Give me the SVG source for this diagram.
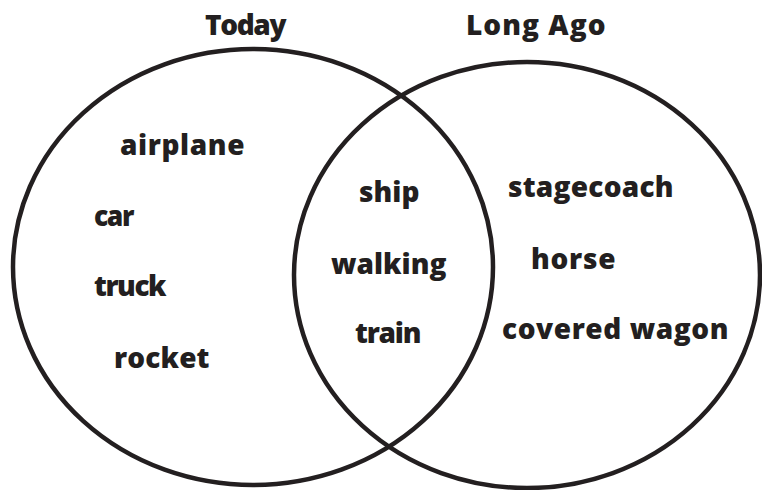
<svg xmlns="http://www.w3.org/2000/svg" width="762" height="490" viewBox="0 0 762 490">
<style>
text{font-family:"Open Sans","Liberation Sans",sans-serif;font-weight:800;font-size:28px;fill:#231f20;letter-spacing:-1.5px}
.c{fill:none;stroke:#231f20;stroke-width:4.5}
</style>
<rect width="762" height="490" fill="#fff"/>
<g id="connectors"></g>
<g id="today-set"><ellipse class="c" cx="253" cy="267" rx="240" ry="218"/></g>
<g id="longago-set"><ellipse class="c" cx="527" cy="275" rx="233" ry="213"/></g>
<g id="title-today"><text x="205" y="35" textLength="80">Today</text></g>
<g id="title-longago"><text x="466" y="35" textLength="138">Long Ago</text></g>
<g id="airplane"><text x="120" y="155" textLength="123">airplane</text></g>
<g id="car"><text x="94" y="226" textLength="39" lengthAdjust="spacingAndGlyphs">car</text></g>
<g id="truck"><text x="94" y="296" textLength="71">truck</text></g>
<g id="rocket"><text x="114" y="368" textLength="94">rocket</text></g>
<g id="ship"><text x="359" y="202" textLength="59">ship</text></g>
<g id="walking"><text x="331" y="274" textLength="114">walking</text></g>
<g id="train"><text x="355" y="343" textLength="65">train</text></g>
<g id="stagecoach"><text x="508" y="197" textLength="164">stagecoach</text></g>
<g id="horse"><text x="531" y="269" textLength="83">horse</text></g>
<g id="covered-wagon"><text x="502" y="339" textLength="225">covered wagon</text></g>
</svg>
